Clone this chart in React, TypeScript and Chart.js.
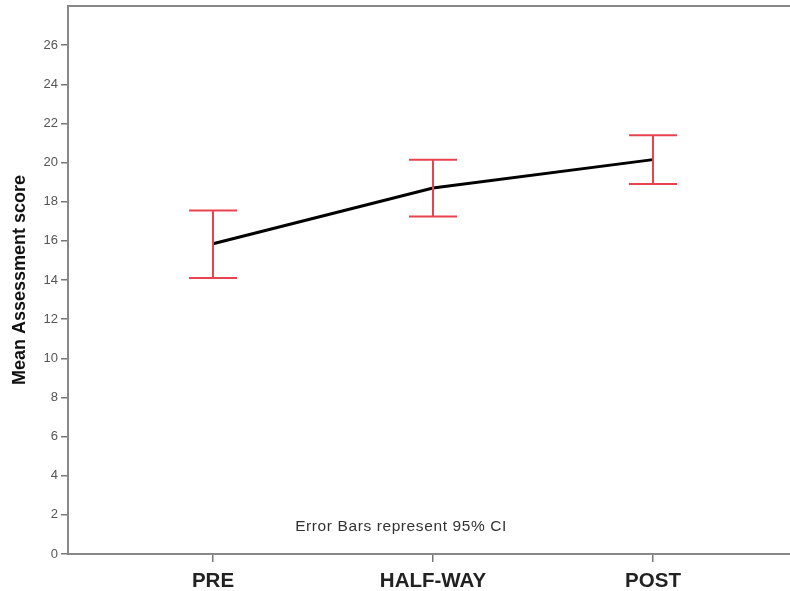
import React, { useEffect, useRef } from "react";
import { Chart, registerables } from "chart.js";

Chart.register(...registerables);

const categories = ["PRE", "HALF-WAY", "POST"];
const positions = [1, 2, 3];
const means = [15.85, 18.7, 20.15];
const ciLower = [14.1, 17.25, 18.9];
const ciUpper = [17.55, 20.15, 21.4];
const yTicksMax = 28;
const note = "Error Bars represent 95% CI";

const errorBarPlugin = {
  id: "errorBars",
  afterDatasetsDraw(chart: any) {
    const { ctx, scales } = chart;
    const xs = scales.x;
    const ys = scales.y;
    ctx.save();
    ctx.strokeStyle = "#e8434f";
    ctx.lineWidth = 2;
    positions.forEach((p, i) => {
      const x = xs.getPixelForValue(p);
      const yl = ys.getPixelForValue(ciLower[i]);
      const yh = ys.getPixelForValue(ciUpper[i]);
      ctx.beginPath();
      ctx.moveTo(x, yl);
      ctx.lineTo(x, yh);
      ctx.moveTo(x - 24, yl);
      ctx.lineTo(x + 24, yl);
      ctx.moveTo(x - 24, yh);
      ctx.lineTo(x + 24, yh);
      ctx.stroke();
    });
    ctx.restore();
  },
};

const framePlugin = {
  id: "frame",
  afterDraw(chart: any) {
    const { ctx, chartArea } = chart;
    ctx.save();
    ctx.strokeStyle = "#888888";
    ctx.lineWidth = 2;
    ctx.beginPath();
    ctx.moveTo(chartArea.left, chartArea.top);
    ctx.lineTo(chartArea.right, chartArea.top);
    ctx.stroke();
    ctx.fillStyle = "#333333";
    ctx.font = "15.5px 'Liberation Sans', Arial, sans-serif";
    try {
      (ctx as any).letterSpacing = "0.6px";
    } catch (e) {}
    ctx.textAlign = "center";
    ctx.textBaseline = "middle";
    ctx.fillText(note, chart.scales.x.getPixelForValue(2) - 32, chartArea.bottom - 27);
    ctx.restore();
  },
};

export default function App() {
  const ref = useRef<HTMLCanvasElement | null>(null);
  useEffect(() => {
    if (!ref.current) return;
    const chart = new Chart(ref.current, {
      type: "line",
      data: {
        datasets: [
          {
            data: positions.map((p, i) => ({ x: p, y: means[i] })),
            borderColor: "#000000",
            borderWidth: 3,
            pointRadius: 0,
            fill: false,
            tension: 0,
          },
        ],
      },
      options: {
        animation: false,
        responsive: false,
        devicePixelRatio: 1,
        layout: { padding: { top: 6, right: 0, left: 0, bottom: 0 } },
        plugins: { legend: { display: false }, tooltip: { enabled: false } },
        scales: {
          x: {
            type: "linear",
            min: 0.3409,
            max: 3.6227,
            afterBuildTicks: (s: any) => {
              s.ticks = positions.map((v) => ({ value: v }));
            },
            afterFit: (s: any) => {
              s.height = 37;
              s.paddingLeft = 0;
              s.paddingRight = 0;
            },
            ticks: {
              callback: (v: any) => {
                const i = positions.indexOf(Number(v));
                return i >= 0 ? categories[i] : "";
              },
              font: { family: "'Liberation Sans', Arial, sans-serif", size: 20.5, weight: "bold" },
              color: "#222222",
              padding: 7,
              maxRotation: 0,
              autoSkip: false,
            },
            grid: { display: true, drawOnChartArea: false, drawTicks: true, tickLength: 8, color: "#777777", lineWidth: 1.5 },
            border: { display: true, color: "#888888", width: 2 },
          },
          y: {
            min: 0,
            max: yTicksMax,
            afterBuildTicks: (s: any) => {
              s.ticks = s.ticks.filter((t: any) => t.value < yTicksMax);
            },
            afterFit: (s: any) => {
              s.width = 68;
              s.paddingTop = 0;
              s.paddingBottom = 0;
            },
            ticks: {
              stepSize: 2,
              font: { family: "'Liberation Sans', Arial, sans-serif", size: 13 },
              color: "#555555",
              padding: 3,
            },
            grid: { display: true, drawOnChartArea: false, drawTicks: true, tickLength: 7, color: "#777777", lineWidth: 1.5 },
            border: { display: true, color: "#888888", width: 2 },
            title: {
              display: true,
              text: "Mean Assessment score",
              font: { family: "'Liberation Sans', Arial, sans-serif", size: 18, weight: "bold" },
              color: "#111111",
              padding: { top: 9, bottom: 0 },
            },
          },
        },
      },
      plugins: [errorBarPlugin, framePlugin],
    });
    return () => chart.destroy();
  }, []);
  return (
    <div style={{ position: "absolute", left: 0, top: 0, width: 790, height: 591, background: "#fff" }}>
      <canvas ref={ref} width={790} height={591} />
    </div>
  );
}
